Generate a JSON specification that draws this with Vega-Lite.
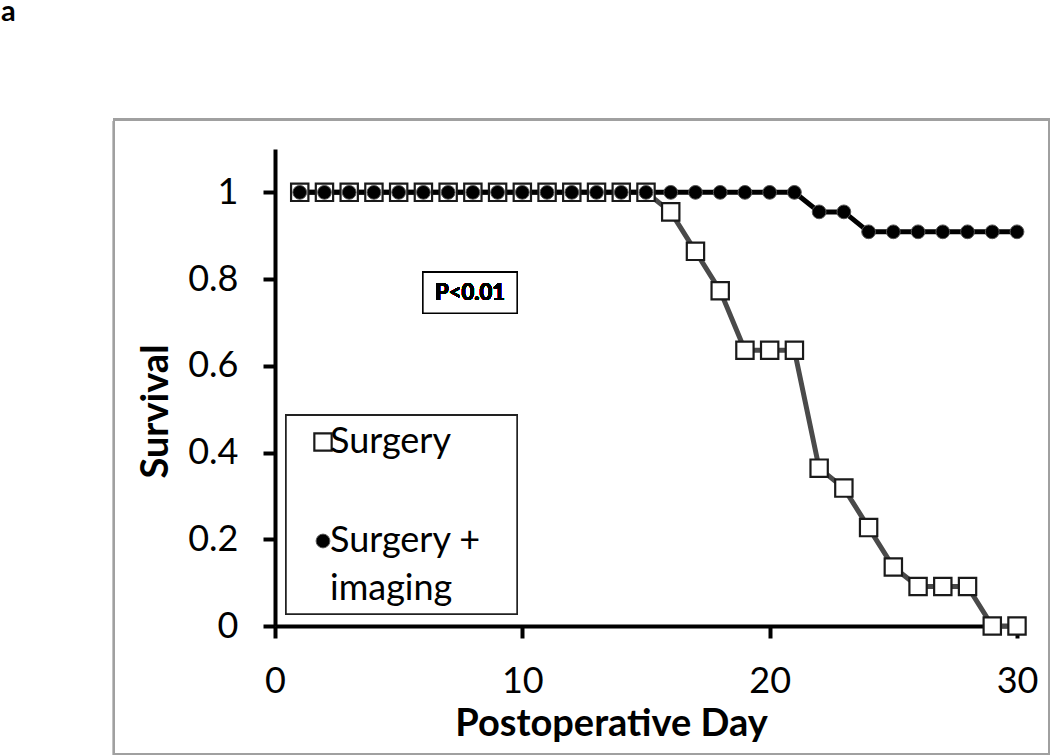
{
  "$schema": "https://vega.github.io/schema/vega-lite/v6.json",
  "width": 742,
  "height": 477,
  "autosize": "none",
  "padding": {"left": 275, "top": 149, "right": 33, "bottom": 129},
  "background": "white",
  "title": {"text": "a", "anchor": "start", "frame": "group", "font": "Lato", "fontSize": 29, "fontWeight": "bold", "color": "black", "dx": -274, "offset": 92},
  "config": {
    "view": {"stroke": null},
    "axis": {"domainColor": "black", "domainWidth": 4, "tickColor": "black", "tickWidth": 4, "tickSize": 12, "labelFont": "Lato", "labelFontSize": 36, "labelColor": "black", "titleFont": "Lato", "titleFontSize": 38, "titleFontWeight": "bold", "titleColor": "black", "grid": false},
    "legend": {"labelFont": "Lato", "labelFontSize": 36, "labelColor": "black"},
    "style": {"guide-label": {"lineHeight": 48}}
  },
  "data": {"values": [
    {"day": 1, "survival": 1, "group": "Surgery"},
    {"day": 2, "survival": 1, "group": "Surgery"},
    {"day": 3, "survival": 1, "group": "Surgery"},
    {"day": 4, "survival": 1, "group": "Surgery"},
    {"day": 5, "survival": 1, "group": "Surgery"},
    {"day": 6, "survival": 1, "group": "Surgery"},
    {"day": 7, "survival": 1, "group": "Surgery"},
    {"day": 8, "survival": 1, "group": "Surgery"},
    {"day": 9, "survival": 1, "group": "Surgery"},
    {"day": 10, "survival": 1, "group": "Surgery"},
    {"day": 11, "survival": 1, "group": "Surgery"},
    {"day": 12, "survival": 1, "group": "Surgery"},
    {"day": 13, "survival": 1, "group": "Surgery"},
    {"day": 14, "survival": 1, "group": "Surgery"},
    {"day": 15, "survival": 1, "group": "Surgery"},
    {"day": 16, "survival": 0.955, "group": "Surgery"},
    {"day": 17, "survival": 0.864, "group": "Surgery"},
    {"day": 18, "survival": 0.773, "group": "Surgery"},
    {"day": 19, "survival": 0.636, "group": "Surgery"},
    {"day": 20, "survival": 0.636, "group": "Surgery"},
    {"day": 21, "survival": 0.636, "group": "Surgery"},
    {"day": 22, "survival": 0.364, "group": "Surgery"},
    {"day": 23, "survival": 0.318, "group": "Surgery"},
    {"day": 24, "survival": 0.227, "group": "Surgery"},
    {"day": 25, "survival": 0.136, "group": "Surgery"},
    {"day": 26, "survival": 0.091, "group": "Surgery"},
    {"day": 27, "survival": 0.091, "group": "Surgery"},
    {"day": 28, "survival": 0.091, "group": "Surgery"},
    {"day": 29, "survival": 0, "group": "Surgery"},
    {"day": 30, "survival": 0, "group": "Surgery"},
    {"day": 1, "survival": 1, "group": "Surgery + imaging"},
    {"day": 2, "survival": 1, "group": "Surgery + imaging"},
    {"day": 3, "survival": 1, "group": "Surgery + imaging"},
    {"day": 4, "survival": 1, "group": "Surgery + imaging"},
    {"day": 5, "survival": 1, "group": "Surgery + imaging"},
    {"day": 6, "survival": 1, "group": "Surgery + imaging"},
    {"day": 7, "survival": 1, "group": "Surgery + imaging"},
    {"day": 8, "survival": 1, "group": "Surgery + imaging"},
    {"day": 9, "survival": 1, "group": "Surgery + imaging"},
    {"day": 10, "survival": 1, "group": "Surgery + imaging"},
    {"day": 11, "survival": 1, "group": "Surgery + imaging"},
    {"day": 12, "survival": 1, "group": "Surgery + imaging"},
    {"day": 13, "survival": 1, "group": "Surgery + imaging"},
    {"day": 14, "survival": 1, "group": "Surgery + imaging"},
    {"day": 15, "survival": 1, "group": "Surgery + imaging"},
    {"day": 16, "survival": 1, "group": "Surgery + imaging"},
    {"day": 17, "survival": 1, "group": "Surgery + imaging"},
    {"day": 18, "survival": 1, "group": "Surgery + imaging"},
    {"day": 19, "survival": 1, "group": "Surgery + imaging"},
    {"day": 20, "survival": 1, "group": "Surgery + imaging"},
    {"day": 21, "survival": 1, "group": "Surgery + imaging"},
    {"day": 22, "survival": 0.955, "group": "Surgery + imaging"},
    {"day": 23, "survival": 0.955, "group": "Surgery + imaging"},
    {"day": 24, "survival": 0.909, "group": "Surgery + imaging"},
    {"day": 25, "survival": 0.909, "group": "Surgery + imaging"},
    {"day": 26, "survival": 0.909, "group": "Surgery + imaging"},
    {"day": 27, "survival": 0.909, "group": "Surgery + imaging"},
    {"day": 28, "survival": 0.909, "group": "Surgery + imaging"},
    {"day": 29, "survival": 0.909, "group": "Surgery + imaging"},
    {"day": 30, "survival": 0.909, "group": "Surgery + imaging"}
  ]},
  "layer": [
    {
      "mark": {"type": "rect", "fill": null, "stroke": "#a0a0a0", "strokeWidth": 2, "clip": false},
      "encoding": {
        "x": {"datum": -6.51, "type": "quantitative", "scale": {"domain": [0, 30], "nice": false, "zero": false},
          "axis": {"title": "Postoperative Day", "values": [0, 10, 20, 30], "labelPadding": 26, "titleX": 336, "titleY": 79, "labelFlush": false}},
        "x2": {"datum": 31.3},
        "y": {"datum": 1.168, "type": "quantitative", "scale": {"domain": [0, 1.1], "nice": false},
          "axis": {"title": "Survival", "values": [0, 0.2, 0.4, 0.6, 0.8, 1], "format": "~g", "labelPadding": 25, "titleX": -100, "titleY": 262, "labelFlush": false}},
        "y2": {"datum": -0.295}
      }
    },
    {
      "mark": {"type": "rect", "fill": "white", "stroke": "#222222", "strokeWidth": 1.5},
      "encoding": {
        "x": {"datum": 0.445, "type": "quantitative"},
        "x2": {"datum": 9.786},
        "y": {"datum": 0.486, "type": "quantitative"},
        "y2": {"datum": 0.0276}
      }
    },
    {
      "transform": [{"filter": "datum.group === 'Surgery'"}],
      "mark": {"type": "line", "strokeWidth": 5, "color": "#4a4a4a", "clip": false},
      "encoding": {
        "x": {"field": "day", "type": "quantitative"},
        "y": {"field": "survival", "type": "quantitative"}
      }
    },
    {
      "transform": [{"filter": "datum.group === 'Surgery + imaging'"}],
      "mark": {"type": "line", "strokeWidth": 5, "color": "#000000", "clip": false},
      "encoding": {
        "x": {"field": "day", "type": "quantitative"},
        "y": {"field": "survival", "type": "quantitative"}
      }
    },
    {
      "mark": {"type": "point", "opacity": 1, "clip": false},
      "encoding": {
        "x": {"field": "day", "type": "quantitative"},
        "y": {"field": "survival", "type": "quantitative"},
        "shape": {"field": "group", "type": "nominal", "scale": {"domain": ["Surgery", "Surgery + imaging"], "range": ["square", "circle"]},
          "legend": {"title": null, "orient": "none", "legendX": 29, "legendY": 275, "padding": 0, "symbolOffset": 1, "labelOffset": -11, "rowPadding": 63, "labelLimit": 0,
            "labelExpr": "datum.value === 'Surgery + imaging' ? ['Surgery +', 'imaging'] : datum.label",
            "encode": {"labels": {"update": {"lineHeight": {"value": 48}, "dy": {"signal": "datum.value === 'Surgery + imaging' ? 24 : 0"}}}}}},
        "fill": {"field": "group", "type": "nominal", "scale": {"domain": ["Surgery", "Surgery + imaging"], "range": ["#ffffff", "#000000"]}},
        "stroke": {"field": "group", "type": "nominal", "scale": {"domain": ["Surgery", "Surgery + imaging"], "range": ["#1a1a1a", "#555555"]}},
        "size": {"field": "group", "type": "nominal", "scale": {"domain": ["Surgery", "Surgery + imaging"], "range": [300, 190]}},
        "strokeWidth": {"field": "group", "type": "nominal", "scale": {"domain": ["Surgery", "Surgery + imaging"], "range": [2.2, 1]}}
      }
    },
    {
      "mark": {"type": "rect", "fill": "white", "stroke": "black", "strokeWidth": 1.5},
      "encoding": {
        "x": {"datum": 5.98, "type": "quantitative"},
        "x2": {"datum": 9.79},
        "y": {"datum": 0.816, "type": "quantitative"},
        "y2": {"datum": 0.721}
      }
    },
    {
      "mark": {"type": "text", "font": "Lato", "fontSize": 22, "fontWeight": "bold", "color": "black", "align": "center", "baseline": "middle"},
      "encoding": {
        "x": {"datum": 7.885, "type": "quantitative"},
        "y": {"datum": 0.768, "type": "quantitative"},
        "text": {"value": "P<0.01"}
      }
    }
  ]
}
